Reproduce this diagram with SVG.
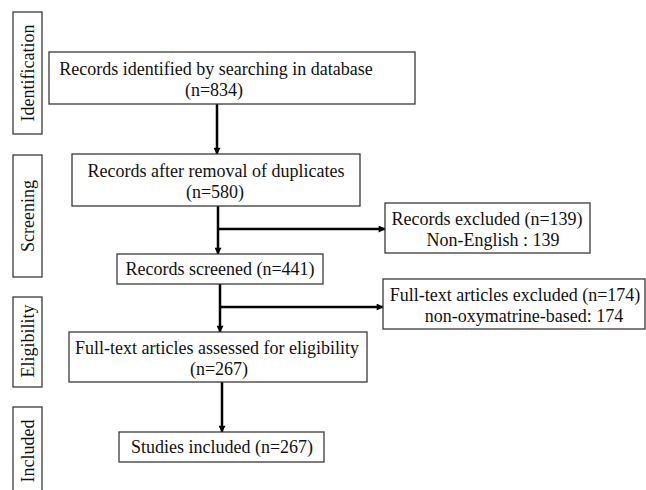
<svg xmlns="http://www.w3.org/2000/svg" width="646" height="490" viewBox="0 0 646 490">
<defs>
<marker id="ah" viewBox="0 0 10 10" refX="9" refY="5" markerWidth="8" markerHeight="7" markerUnits="userSpaceOnUse" orient="auto">
<path d="M0,0 L10,5 L0,10 z" fill="#000"/>
</marker>
<style>
rect{fill:#fff;stroke:#3a3a3a;stroke-width:1.3}
text{font-family:"Liberation Serif","Times New Roman",serif;font-size:18px;fill:#111;text-anchor:middle}
.c{stroke:#000;stroke-width:2.5;fill:none;marker-end:url(#ah)}
</style>
</defs>
<rect width="646" height="490" style="fill:#fff;stroke:none"/>
<g id="stage-identification"><rect x="13" y="12" width="29" height="122"/><text transform="translate(34,73) rotate(-90)">Identification</text></g>
<g id="stage-screening"><rect x="13" y="155" width="29" height="122"/><text transform="translate(34,216) rotate(-90)">Screening</text></g>
<g id="stage-eligibility"><rect x="13" y="297" width="29" height="90"/><text transform="translate(34,341) rotate(-90)">Eligibility</text></g>
<g id="stage-included"><rect x="13" y="407" width="29" height="92"/><text transform="translate(34,451) rotate(-90)">Included</text></g>
<g id="connectors">
<line class="c" x1="217" y1="104" x2="217" y2="154"/>
<line class="c" x1="218" y1="206" x2="218" y2="254"/>
<line class="c" x1="218" y1="229" x2="385" y2="229"/>
<line class="c" x1="220" y1="284" x2="220" y2="332"/>
<line class="c" x1="220" y1="307" x2="383" y2="307"/>
<line class="c" x1="222" y1="382" x2="222" y2="432"/>
</g>
<g id="n1"><rect x="49" y="52" width="366" height="52"/><text x="216" y="75">Records identified by searching in database</text><text x="214" y="96">(n=834)</text></g>
<g id="n2"><rect x="72" y="154" width="288" height="52"/><text x="216" y="177">Records after removal of duplicates</text><text x="215" y="198">(n=580)</text></g>
<g id="n3"><rect x="117" y="254" width="206" height="30"/><text x="220" y="275">Records screened (n=441)</text></g>
<g id="n4"><rect x="385" y="203" width="205" height="50"/><text x="487" y="225">Records excluded (n=139)</text><text x="493" y="246">Non-English : 139</text></g>
<g id="n5"><rect x="383" y="279" width="262" height="50"/><text x="515" y="301">Full-text articles excluded (n=174)</text><text x="524" y="322">non-oxymatrine-based: 174</text></g>
<g id="n6"><rect x="69" y="332" width="298" height="50"/><text x="217" y="354">Full-text articles assessed for eligibility</text><text x="219" y="375">(n=267)</text></g>
<g id="n7"><rect x="119" y="432" width="205" height="30"/><text x="222" y="453">Studies included (n=267)</text></g>
</svg>
